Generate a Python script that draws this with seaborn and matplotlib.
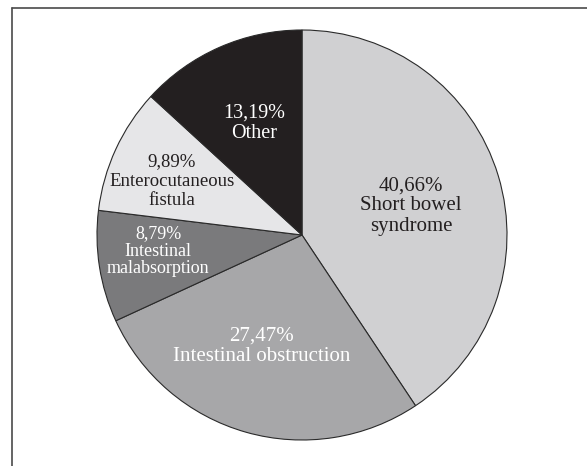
import matplotlib
matplotlib.use("Agg")
import matplotlib.pyplot as plt
from matplotlib.lines import Line2D
import seaborn as sns

# ---- data ----
categories = ["Short bowel syndrome", "Intestinal obstruction", "Intestinal malabsorption",
              "Enterocutaneous fistula", "Other"]
percent = [40.66, 27.47, 8.79, 9.89, 13.19]
label_texts = ["40,66%\nShort bowel\nsyndrome",
               "27,47%\nIntestinal obstruction",
               "8,79%\nIntestinal\nmalabsorption",
               "9,89%\nEnterocutaneous\nfistula",
               "13,19%\nOther"]

# ---- style ----
colors = ["#d0d0d2", "#a7a7a9", "#7a7a7c", "#e6e6e8", "#231f20"]
text_colors = ["#231f20", "#ffffff", "#ffffff", "#231f20", "#ffffff"]
font_sizes = [15, 15, 13, 13.5, 14.5]
line_spacings = [1.1, 1.1, 1.05, 1.2, 1.1]
# label centres in pixel coordinates (layout)
label_px = [(411, 206), (262, 346), (158, 251), (172, 181), (254, 123)]

sns.set_theme(style="white")
plt.rcParams["font.family"] = ["Liberation Serif", "DejaVu Serif"]

W, H = 587, 466
CX, CY, R = 302, 235, 205
fig = plt.figure(figsize=(W / 100, H / 100), dpi=100)
fig.patch.set_facecolor("white")
ax = fig.add_axes([0, 0, 1, 1])

ax.pie(percent, colors=colors, startangle=90, counterclock=False, radius=1,
       wedgeprops=dict(edgecolor="#2a2a2a", linewidth=0.8))
ax.set_xlim(-CX / R, (W - CX) / R)
ax.set_ylim(-(H - CY) / R, CY / R)
ax.set_axis_off()

for txt, (px, py), c, fs, ls in zip(label_texts, label_px, text_colors, font_sizes, line_spacings):
    ax.text((px - CX) / R, (CY - py) / R, txt, ha="center", va="center",
            color=c, fontsize=fs, linespacing=ls)

# frame lines (top and left only)
lx = 11.5 / W
ty = 1 - 8 / H
fig.add_artist(Line2D([lx, lx], [0, ty], transform=fig.transFigure, color="#4a4a4a", lw=1.2))
fig.add_artist(Line2D([lx, 1], [ty, ty], transform=fig.transFigure, color="#4a4a4a", lw=1.2))

fig.savefig("out.png", dpi=100)
